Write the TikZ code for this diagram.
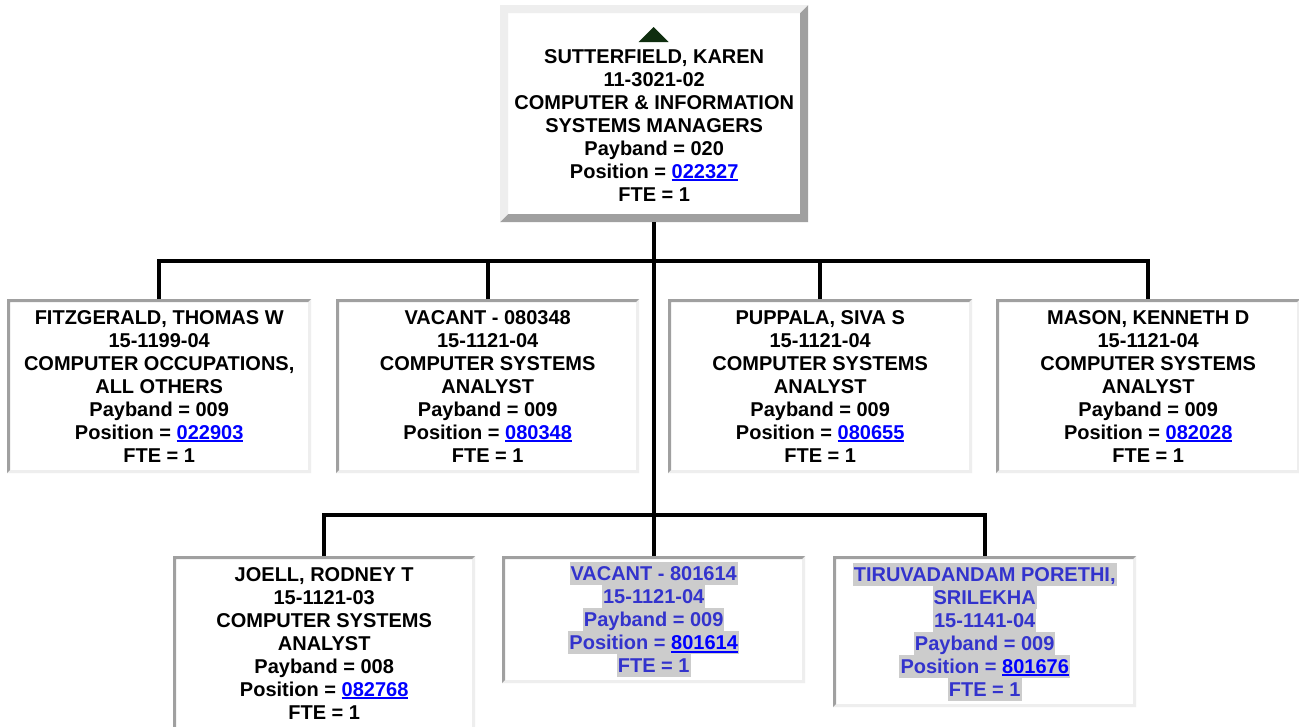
\documentclass[tikz,border=0pt]{standalone}
\usepackage{fontspec}
\setmainfont{Liberation Sans}
\definecolor{darkb}{HTML}{A0A0A0}
\definecolor{lightb}{HTML}{EEEEEE}
\definecolor{hlgray}{HTML}{CCCCCC}
\definecolor{hltext}{HTML}{3333CC}
\definecolor{linkblue}{HTML}{0000FF}
\definecolor{trigreen}{HTML}{0F2E0F}
\newcommand\mystrut{\rule[-4.5pt]{0pt}{23pt}}
\newcommand\lnk[1]{{\color{linkblue}\setbox0\hbox{#1}\rlap{\rule[-3pt]{\wd0}{1.8pt}}\box0}}
\newcommand\hlin[1]{{\setlength\fboxsep{0pt}\colorbox{hlgray}{\hspace{1pt}\mystrut#1\hspace{1pt}}}}
\newcommand\txl[1]{\mystrut#1}
\tikzset{
  bthreed/.style n args={3}{path picture={
    \fill[#1] (path picture bounding box.south west) -- (path picture bounding box.north west)
      -- (path picture bounding box.north east)
      -- ([xshift=-#3,yshift=-#3]path picture bounding box.north east)
      -- ([xshift=#3,yshift=-#3]path picture bounding box.north west)
      -- ([xshift=#3,yshift=#3]path picture bounding box.south west) -- cycle;
    \fill[#2] (path picture bounding box.south west) -- (path picture bounding box.south east)
      -- (path picture bounding box.north east)
      -- ([xshift=-#3,yshift=-#3]path picture bounding box.north east)
      -- ([xshift=-#3,yshift=#3]path picture bounding box.south east)
      -- ([xshift=#3,yshift=#3]path picture bounding box.south west) -- cycle;
  }},
  box/.style={anchor=north west, inner sep=0pt, fill=white, text=black, align=center,
    font=\fontsize{20}{23}\selectfont\bfseries,
    bthreed={darkb}{lightb}{3pt}},
  topbox/.style={box, bthreed={lightb}{darkb}{8pt}},
  hlbox/.style={box, text=hltext},
  conn/.style={line width=4pt, black, line join=miter},
}
\begin{document}
\begin{tikzpicture}[x=1pt,y=-1pt]
\clip (0,0) rectangle (1299,726);
\fill[white] (0,0) rectangle (1299,726);
% top box
\node[topbox, minimum width=308pt, minimum height=217pt] (top) at (500,5)
  {\mystrut\\\txl{SUTTERFIELD, KAREN}\\\txl{11-3021-02}\\\txl{COMPUTER \& INFORMATION}\\\txl{SYSTEMS MANAGERS}\\\txl{Payband = 020}\\\txl{Position = \lnk{022327}}\\\txl{FTE = 1}};
\fill[trigreen] (638.5,42) -- (653.5,27) -- (668.5,42) -- cycle;
% first row
\node[box, minimum width=304pt, minimum height=174pt] (c1) at (7,299)
  {\txl{FITZGERALD, THOMAS W}\\\txl{15-1199-04}\\\txl{COMPUTER OCCUPATIONS,}\\\txl{ALL OTHERS}\\\txl{Payband = 009}\\\txl{Position = \lnk{022903}}\\\txl{FTE = 1}};
\node[box, minimum width=303pt, minimum height=174pt] (c2) at (336,299)
  {\txl{VACANT - 080348}\\\txl{15-1121-04}\\\txl{COMPUTER SYSTEMS}\\\txl{ANALYST}\\\txl{Payband = 009}\\\txl{Position = \lnk{080348}}\\\txl{FTE = 1}};
\node[box, minimum width=304pt, minimum height=174pt] (c3) at (668,299)
  {\txl{PUPPALA, SIVA S}\\\txl{15-1121-04}\\\txl{COMPUTER SYSTEMS}\\\txl{ANALYST}\\\txl{Payband = 009}\\\txl{Position = \lnk{080655}}\\\txl{FTE = 1}};
\node[box, minimum width=304pt, minimum height=174pt] (c4) at (996,299)
  {\txl{MASON, KENNETH D}\\\txl{15-1121-04}\\\txl{COMPUTER SYSTEMS}\\\txl{ANALYST}\\\txl{Payband = 009}\\\txl{Position = \lnk{082028}}\\\txl{FTE = 1}};
% second row
\node[box, minimum width=302pt, minimum height=174pt] (d1) at (173,556)
  {\txl{JOELL, RODNEY T}\\\txl{15-1121-03}\\\txl{COMPUTER SYSTEMS}\\\txl{ANALYST}\\\txl{Payband = 008}\\\txl{Position = \lnk{082768}}\\\txl{FTE = 1}};
\node[hlbox, minimum width=303pt, minimum height=127pt] (d2) at (502,556)
  {\hlin{VACANT - 801614}\\\hlin{15-1121-04}\\\hlin{Payband = 009}\\\hlin{Position = \lnk{801614}}\\\hlin{FTE = 1}};
\node[hlbox, minimum width=303pt, minimum height=151pt] (d3) at (833,556)
  {\hlin{TIRUVADANDAM PORETHI,}\\\hlin{SRILEKHA}\\\hlin{15-1141-04}\\\hlin{Payband = 009}\\\hlin{Position = \lnk{801676}}\\\hlin{FTE = 1}};
% connectors
\coordinate (bar1) at (654,261);
\coordinate (bar2) at (654,515);
\draw[conn] (top.south) -- (top.south |- bar2);
\draw[conn] (c1.north) -- (c1.north |- bar1) -- (c4.north |- bar1) -- (c4.north);
\draw[conn] (c2.north) -- (c2.north |- bar1);
\draw[conn] (c3.north) -- (c3.north |- bar1);
\draw[conn] (d1.north) -- (d1.north |- bar2) -- (d3.north |- bar2) -- (d3.north);
\draw[conn] (d2.north) -- (d2.north |- bar2);
\end{tikzpicture}
\end{document}
